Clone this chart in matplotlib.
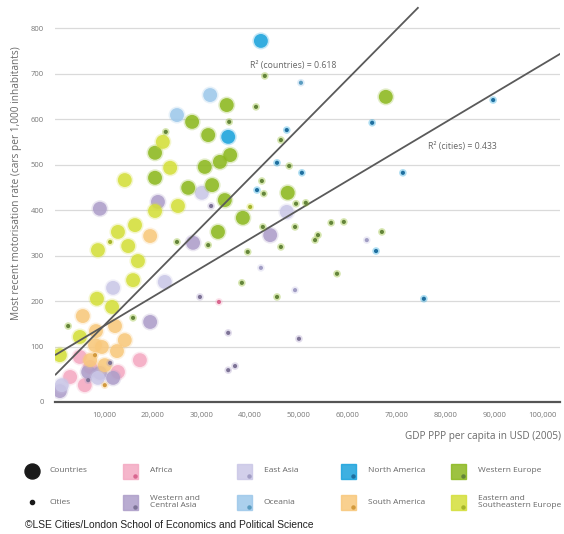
import matplotlib
matplotlib.use('Agg')
import matplotlib.pyplot as plt
from matplotlib.patches import Rectangle
from matplotlib.lines import Line2D

plt.rcParams['font.family'] = ['Open Sans', 'DejaVu Sans']

W, H = 564, 534

# GDP PPP per capita (thousand USD, 2005) / cars per 1,000 inhabitants
# --- countries (large circles)
africa_gdp = [17.4, 5.1, 12.9, 6.1, 3.1, 7.2]
africa_cars = [70, 77, 44, 15, 33, 55]
wca_gdp = [9.2, 21.1, 19.5, 28.3, 44.1, 9.2, 11.9, 1.0, 6.8]
wca_cars = [403, 418, 154, 328, 345, 42, 31, 2, 44]
eastasia_gdp = [11.9, 22.5, 30.1, 47.5, 8.8, 1.4]
eastasia_cars = [229, 242, 438, 396, 31, 15]
oceania_gdp = [31.8, 25.0]
oceania_cars = [653, 609]
namerica_gdp = [42.2, 35.5]
namerica_cars = [772, 561]
samerica_gdp = [19.5, 5.7, 12.3, 8.4, 9.6, 12.7, 7.2, 10.2, 14.3, 8.2]
samerica_cars = [343, 167, 145, 134, 99, 90, 70, 59, 114, 103]
weurope_gdp = [67.8, 35.2, 28.1, 31.4, 35.9, 33.8, 30.7, 20.5, 20.5, 32.2,
               27.3, 34.8, 33.4, 38.5, 47.7]
weurope_cars = [649, 631, 594, 565, 521, 506, 495, 526, 471, 455,
                449, 422, 352, 383, 438]
eeurope_gdp = [22.1, 23.6, 25.2, 14.3, 20.5, 12.9, 16.4, 15.0, 8.8, 17.0,
               16.0, 8.6, 11.7, 5.1, 1.0]
eeurope_cars = [550, 493, 409, 466, 398, 352, 367, 321, 312, 288,
                246, 205, 187, 121, 81]

# --- cities (small dots)
africa_city_gdp = [33.6]
africa_city_cars = [198]
wca_city_gdp = [32.0, 29.7, 35.5, 35.5, 36.9, 50.0, 11.3, 6.8]
wca_city_cars = [409, 209, 130, 48, 57, 117, 64, 26]
eastasia_city_gdp = [63.9, 42.2, 49.2]
eastasia_city_cars = [334, 273, 224]
oceania_city_gdp = [50.4]
oceania_city_cars = [680]
namerica_city_gdp = [65.0, 89.8, 47.5, 45.5, 50.6, 71.3, 41.4, 65.8, 75.6]
namerica_city_cars = [592, 642, 576, 504, 482, 482, 444, 310, 205]
samerica_city_gdp = [8.2, 10.2]
samerica_city_cars = [81, 15]
weurope_city_gdp = [43.0, 41.2, 35.7, 46.3, 48.0, 42.4, 42.8, 49.4, 51.4, 42.6,
                    49.2, 56.6, 59.2, 53.9, 53.3, 67.0, 46.3, 57.8, 45.5, 25.0,
                    31.4, 39.5, 38.3, 2.7, 16.0, 22.7]
weurope_city_cars = [695, 627, 594, 554, 497, 464, 436, 414, 416, 363,
                     363, 372, 374, 345, 334, 352, 319, 260, 209, 330,
                     323, 308, 240, 145, 163, 572]
eeurope_city_gdp = [40.0, 11.3]
eeurope_city_cars = [407, 330]

# regression lines: intercept, slope (per 1,000 USD), x extent
countries_fit = (37, 10.86, 74.5)
cities_fit = (81, 6.4, 104)

regions = ['Africa', 'Western and\nCentral Asia', 'East Asia', 'Oceania',
           'North America', 'South America', 'Western Europe',
           'Eastern and\nSoutheastern Europe']
light = ['#f4a9c2', '#ad9ec9', '#cac7e7', '#9dc8ea',
         '#1ba3dc', '#f8c87c', '#8cb81f', '#d4df3a']
dark = ['#d9668f', '#7d7396', '#a19dc4', '#5a9cc0',
        '#1f6f9f', '#d29a3e', '#64853a', '#a5b52c']

countries = [(africa_gdp, africa_cars), (wca_gdp, wca_cars),
             (eastasia_gdp, eastasia_cars), (oceania_gdp, oceania_cars),
             (namerica_gdp, namerica_cars), (samerica_gdp, samerica_cars),
             (weurope_gdp, weurope_cars), (eeurope_gdp, eeurope_cars)]
cities = [(africa_city_gdp, africa_city_cars), (wca_city_gdp, wca_city_cars),
          (eastasia_city_gdp, eastasia_city_cars), (oceania_city_gdp, oceania_city_cars),
          (namerica_city_gdp, namerica_city_cars), (samerica_city_gdp, samerica_city_cars),
          (weurope_city_gdp, weurope_city_cars), (eeurope_city_gdp, eeurope_city_cars)]


def fx(px):
    return px / W


def fy(py):
    return 1 - py / H


fig = plt.figure(figsize=(W / 100, H / 100), dpi=100)
ax = fig.add_axes([fx(55), fy(402), fx(560) - fx(55), fy(0) - fy(402)])
ax.set_xlim(0, 103.5)
ax.set_ylim(-22, 862)

for (gx, gy), c in zip(countries, light):
    ax.scatter(gx, gy, s=150, color=c, alpha=0.25, edgecolors='none', zorder=2)
    ax.scatter(gx, gy, s=100, color=c, alpha=0.85, edgecolors='none', zorder=2)

for a, b, xend in [countries_fit, cities_fit]:
    ax.plot([0, xend], [a, a + b * xend], color='#5a5a5a', lw=1.3, zorder=3,
            solid_capstyle='butt')

for (gx, gy), c, d in zip(cities, light, dark):
    ax.scatter(gx, gy, s=30, color=c, alpha=0.35, edgecolors='none', zorder=4)
    ax.scatter(gx, gy, s=9, color=d, edgecolors='none', zorder=5)

ax.text(40, 719, 'R² (countries) = 0.618', fontsize=6.3, color='#666666', va='center')
ax.text(76.4, 539, 'R² (cities) = 0.433', fontsize=6.3, color='#666666', va='center')

# axes styling
ax.set_yticks([-22] + list(range(100, 900, 100)))
ax.set_yticklabels(['0'] + [str(v) for v in range(100, 900, 100)])
ax.set_xticks(list(range(10, 101, 10)))
ax.set_xticklabels(['{:,}'.format(v * 1000) for v in range(10, 101, 10)])
ax.tick_params(length=0, labelsize=5.5, colors='#777777')
ax.tick_params(axis='y', pad=8)
ax.tick_params(axis='x', pad=7)
ax.yaxis.grid(True, color='#dadada', lw=0.9)
ax.set_axisbelow(True)
for side in ['top', 'right', 'left']:
    ax.spines[side].set_visible(False)
ax.spines['bottom'].set_color('#555555')
ax.spines['bottom'].set_linewidth(1.6)

fig.text(fx(17), fy(183), 'Most recent motorisation rate (cars per 1,000 inhabitants)',
         rotation=90, ha='center', va='center', fontsize=7.3, color='#6a6a6a')
fig.text(fx(561), fy(437), 'GDP PPP per capita in USD (2005)',
         ha='right', va='center', fontsize=7.2, color='#6a6a6a')

# legend
rows = [471, 502]
fig.add_artist(Line2D([fx(32)], [fy(rows[0])], marker='o', ms=10.8, color='#1a1a1a',
                      transform=fig.transFigure))
fig.add_artist(Line2D([fx(32)], [fy(rows[1])], marker='o', ms=3, color='#1a1a1a',
                      transform=fig.transFigure))
fig.text(fx(50), fy(rows[0]), 'Countries', fontsize=6, color='#666666', va='center')
fig.text(fx(50), fy(rows[1]), 'Cities', fontsize=6, color='#666666', va='center')

cols = [130, 244, 348, 458]
for i, (name, c, d) in enumerate(zip(regions, light, dark)):
    cx = cols[i // 2]
    cy = rows[i % 2]
    fig.add_artist(Rectangle((fx(cx - 7.5), fy(cy + 7.5)), 15 / W, 15 / H,
                             color=c, alpha=0.85, transform=fig.transFigure))
    fig.add_artist(Line2D([fx(cx + 5)], [fy(cy + 5)], marker='o', ms=2.2, color=d,
                          transform=fig.transFigure))
    fig.text(fx(cx + 20), fy(cy), name, fontsize=6, color='#666666', va='center',
             linespacing=1.0)

fig.text(fx(25), fy(525), '©LSE Cities/London School of Economics and Political Science',
         fontsize=7.4, family='Liberation Sans', color='#222222', va='center')

fig.savefig('out.png', dpi=100)
